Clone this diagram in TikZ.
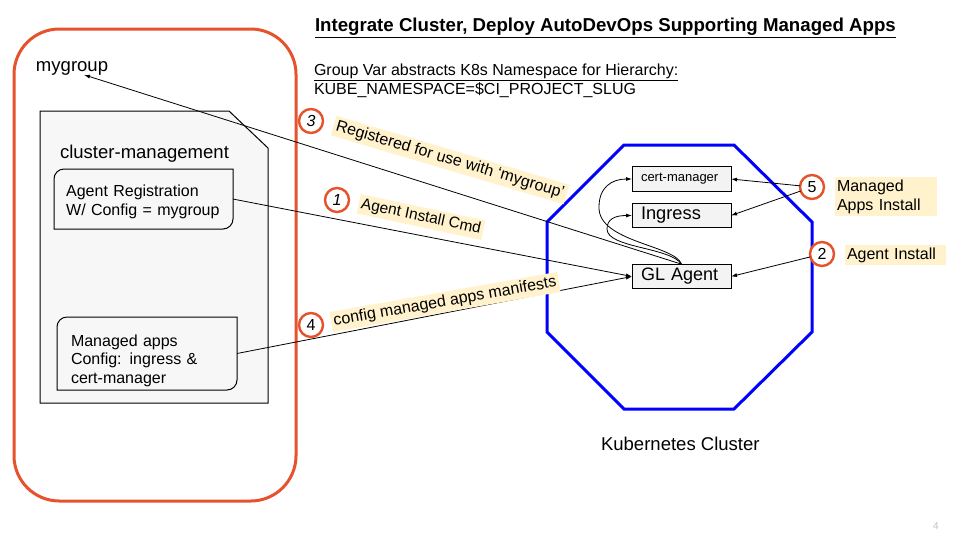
\documentclass[tikz,border=0pt]{standalone}
\usepackage{fontspec}
\setmainfont{Liberation Sans}
\usepackage{xcolor}
\usetikzlibrary{arrows.meta}
\definecolor{grporange}{HTML}{E6522C}
\definecolor{tagyellow}{HTML}{FFF2CC}
\definecolor{boxgray}{HTML}{F3F3F3}
\definecolor{foldergray}{HTML}{F7F7F7}
\newcommand{\sz}[2]{\fontsize{#1}{#2}\selectfont}

\begin{document}
\begin{tikzpicture}[x=0.75pt,y=-0.75pt,
  every node/.style={inner sep=0pt,outer sep=0pt},
  arr/.style={-{Latex[length=4.5pt,width=3pt]},line width=0.6pt},
  kbox/.style={draw,fill=boxgray,line width=0.75pt,minimum width=74.25pt,minimum height=18.5pt,text width=60.75pt,inner xsep=6.75pt,align=left},
  num/.style={circle,draw=grporange,fill=white,line width=1.8pt,minimum size=18pt,font=\sz{12}{14}},
  tag/.style={fill=tagyellow,inner xsep=2pt,inner ysep=2pt,font=\sz{12}{14.25}}]
\useasboundingbox (0,0) rectangle (960,540);
% group and project
\draw[grporange,line width=2.25pt,rounded corners=34pt] (14,29) rectangle (296,501);
\draw[fill=foldergray,line width=0.75pt] (40,111) -- (229,111) -- (268,148) -- (268,403) -- (40,403) -- cycle;
\draw[fill=foldergray,line width=0.75pt] (54,229) -- (54,179) arc(180:270:10) -- (233,169) -- (233,219) arc(0:90:10) -- cycle;
\draw[fill=foldergray,line width=0.75pt] (57,390) -- (57,327) arc(180:270:10) -- (237,317) -- (237,380) arc(0:90:10) -- cycle;
\node[anchor=base west,font=\sz{13.9}{16}] (mygroup) at (36,71) {mygroup};
\node[anchor=base west,font=\sz{13.9}{16}] (cm) at (60,158) {cluster-management};
\node[text width=116pt,inner xsep=9pt,minimum height=45pt,align=left,font=\sz{12}{14.25}] (agreg) at (143.5,199) {\rule{0pt}{13.5pt}Agent Registration\\W/ Config = mygroup};
\node[text width=114pt,inner xsep=10.5pt,minimum height=54.75pt,align=left,font=\sz{12}{13.9}] (mapps) at (147,353.5) {\rule{0pt}{19.5pt}Managed apps\\Config: ingress \&\\cert-manager};
% cluster
\draw[blue,line width=2.25pt] (624,145) -- (734,145) -- (812,222) -- (812,332) -- (734,409) -- (624,409) -- (547,332) -- (547,222) -- cycle;
\node[kbox,font=\sz{9.75}{11}] (cert) at (681.5,179) {cert-manager};
\node[kbox,font=\sz{13.7}{15}] (ingress) at (681.5,215.5) {Ingress};
\node[kbox,font=\sz{13.5}{15}] (agent) at (681.5,276.5) {GL Agent};
\node[anchor=base west,font=\sz{13.9}{16}] (k8s) at (601,450) {Kubernetes Cluster};
% titles
\node[anchor=base west,font=\bfseries\sz{14}{16}] (title) at (315,31) {\underline{Integrate Cluster, Deploy AutoDevOps Supporting Managed Apps}};
\node[anchor=base west,font=\sz{12}{14}] (sub) at (314,75) {\underline{Group Var abstracts K8s Namespace for Hierarchy:}};
\node[anchor=base west,font=\sz{12}{14}] (kube) at (314,94) {KUBE\_NAMESPACE=\$CI\_PROJECT\_SLUG};
\node[text=gray!50,font=\sz{7.5}{9}] (pg) at (936,526) {4};
% steps
\node[num,font=\itshape\sz{12}{14}] (n3) at (311,121) {3};
\node[num,font=\itshape\sz{12}{14}] (n1) at (337,200) {1};
\node[num] (n4) at (311,325) {4};
\node[num] (n5) at (812,187) {5};
\node[num] (n2) at (822,254) {2};
\draw[arr] (agent.north) -- ([xshift=9pt]mygroup.south);
\draw[arr] (agreg.east) -- (agent.west);
\draw[arr] (mapps.east) -- (agent.west);
\draw[arr] (n2) -- (agent.east);
\draw[arr] (n5) -- (cert.east);
\draw[arr] (n5) -- (ingress.east);
\draw[arr] (agent.north) .. controls (675,245) and (598,242) .. (599,207) .. controls (599,187) and (612,179) .. (cert.west);
\draw[arr] (agent.north) .. controls (670,247) and (607,248) .. (607,229) .. controls (607,219) and (615,215.5) .. (ingress.west);
\node[tag,rotate=-16.5] (l3) at (450,160) {Registered for use with ‘mygroup’};
\node[tag,rotate=-12,font=\sz{11.6}{14}] (l1) at (421,217) {Agent Install Cmd};
\node[tag,rotate=10] (l4) at (445,302) {config managed apps manifests};
\node[tag,anchor=north west,inner xsep=1.5pt,text width=73.5pt,minimum height=29.25pt,align=left] (l5) at (835,177) {Managed\\Apps Install};
\node[tag,anchor=north west,inner xsep=1.5pt,text width=73pt,minimum height=14.25pt,align=left] (l2) at (845,245) {Agent Install};
\end{tikzpicture}
\end{document}
